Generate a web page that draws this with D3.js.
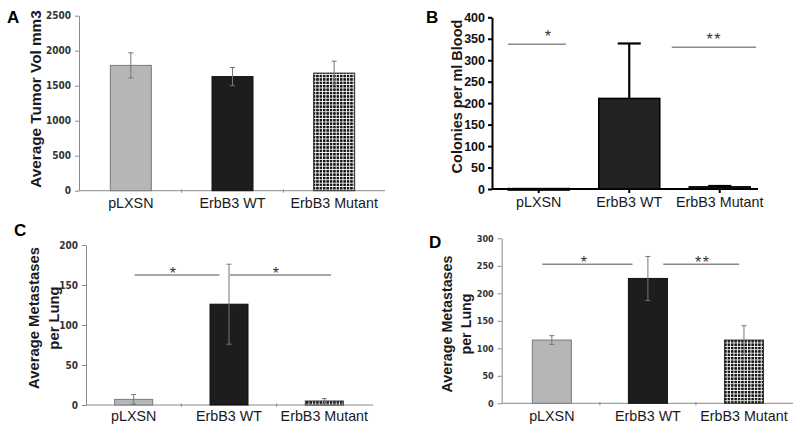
<!DOCTYPE html>
<html>
<head>
<meta charset="utf-8">
<script src="https://cdn.jsdelivr.net/npm/d3@7"></script>
<style>
  body { margin: 0; background: #fff; }
  svg { display: block; font-family: "Liberation Sans", Arial, sans-serif; }
</style>
</head>
<body>
<svg id="chart" width="800" height="430"></svg>
<script>
// data
const categories = ["pLXSN", "ErbB3 WT", "ErbB3 Mutant"];

const tumorVol = [1790, 1630, 1680];
const tumorVolErr = [180, 130, 170];
const tumorTicks = [0, 500, 1000, 1500, 2000, 2500];

const colonies = [1, 211, 5];
const coloniesErr = [0, 128, 2];
const coloniesTicks = [0, 50, 100, 150, 200, 250, 300, 350, 400];

const metsC = [7, 126, 5];
const metsCErr = [6, 50, 3];
const metsCTicks = [0, 50, 100, 150, 200];

const metsD = [115, 227, 115];
const metsDErr = [8, 40, 26];
const metsDTicks = [0, 50, 100, 150, 200, 250, 300];

// significance brackets: [from index, to index, y value, star x index, label]
const sigB = [[-0.34, 0.3, 337, 0.11, "*"], [1.47, 2.4, 330, 1.94, "**"]];
const sigC = [[0.01, 0.9, 162.5, 0.42, "*"], [1.01, 2.07, 162.5, 1.5, "*"]];
const sigD = [[-0.1, 0.84, 253, 0.34, "*"], [1.16, 1.95, 253, 1.57, "**"]];

const svg = d3.select("#chart");

const defs = svg.append("defs");
const pat = defs.append("pattern")
  .attr("id", "checker")
  .attr("patternUnits", "userSpaceOnUse")
  .attr("width", 3.4).attr("height", 3.4);
pat.append("rect").attr("width", 3.4).attr("height", 3.4).attr("fill", "#fff");
pat.append("rect").attr("width", 2.5).attr("height", 2.5).attr("fill", "#111");

const excelFills = ["#b6b6b6", "#1d1d1d", "url(#checker)"];
const excelStroke = ["#7a7a7a", "#111", "#333"];

function drawPanel(p) {
  const g = svg.append("g");
  const y = d3.scaleLinear().domain([0, p.ticks[p.ticks.length - 1]]).range([p.y0, p.yTop]);
  const x = d3.scaleBand().domain(categories).range(p.xRange);
  const step = x.step();
  const cx = i => x(categories[0]) + step / 2 + i * step;

  // y axis
  const yAxis = d3.axisLeft(y).tickValues(p.ticks).tickFormat(d3.format("d"))
    .tickSize(p.tick).tickSizeOuter(0).tickPadding(p.pad);
  const ya = g.append("g").attr("transform", `translate(${p.axisX},0)`).call(yAxis);
  ya.select(".domain").attr("stroke", p.axisColor).attr("stroke-width", p.axisW);
  ya.selectAll(".tick line").attr("stroke", p.axisColor).attr("stroke-width", p.axisW);
  ya.selectAll(".tick text")
    .attr("font-size", p.tickFont).attr("font-weight", "bold").attr("fill", p.tickColor)
    .style("font-family", p.tickFamily);

  // x axis line
  g.append("line")
    .attr("x1", p.axisX).attr("x2", p.xEnd)
    .attr("y1", p.y0).attr("y2", p.y0)
    .attr("stroke", p.axisColor).attr("stroke-width", p.axisW);

  // small category ticks
  const tickXs = p.graphpad
    ? categories.map((c, i) => cx(i))
    : [1, 2].map(i => x(categories[0]) + i * step);
  g.selectAll(".xt").data(tickXs).enter().append("line")
    .attr("x1", d => d).attr("x2", d => d)
    .attr("y1", p.graphpad ? p.y0 : p.y0 - 1.5).attr("y2", p.y0 + (p.graphpad ? 4 : 2))
    .attr("stroke", p.axisColor).attr("stroke-width", p.axisW);

  // bars
  g.selectAll(".bar").data(p.values).enter().append("rect")
    .attr("x", (d, i) => cx(i) - p.barW / 2)
    .attr("y", d => y(d))
    .attr("width", p.barW)
    .attr("height", d => Math.max(p.y0 - y(d), 1.5))
    .attr("fill", (d, i) => p.graphpad ? "#222" : excelFills[i])
    .attr("stroke", (d, i) => p.graphpad ? "#000" : excelStroke[i])
    .attr("stroke-width", p.graphpad ? 1.5 : 1);

  // error bars
  p.values.forEach((v, i) => {
    const e = p.errors[i];
    if (!e) return;
    const lo = p.graphpad ? v : v - e;
    const c = p.graphpad ? "#000" : "#777";
    const w = p.graphpad ? 2.2 : 1;
    g.append("line")
      .attr("x1", cx(i)).attr("x2", cx(i))
      .attr("y1", y(lo)).attr("y2", y(v + e))
      .attr("stroke", c).attr("stroke-width", w);
    g.append("line")
      .attr("x1", cx(i) - p.cap).attr("x2", cx(i) + p.cap)
      .attr("y1", y(v + e)).attr("y2", y(v + e))
      .attr("stroke", c).attr("stroke-width", w);
    if (!p.graphpad) {
      g.append("line")
        .attr("x1", cx(i) - p.cap).attr("x2", cx(i) + p.cap)
        .attr("y1", y(lo)).attr("y2", y(lo))
        .attr("stroke", c).attr("stroke-width", w);
    }
  });

  // significance
  (p.sig || []).forEach(s => {
    g.append("line")
      .attr("x1", cx(s[0])).attr("x2", cx(s[1]))
      .attr("y1", y(s[2])).attr("y2", y(s[2]))
      .attr("stroke", "#8a8a8a").attr("stroke-width", 1.5);
    g.append("text")
      .attr("x", cx(s[3])).attr("y", y(s[2]) + p.starDy)
      .attr("text-anchor", "middle")
      .attr("font-size", 16).attr("fill", "#333")
      .attr("letter-spacing", 1.5)
      .text(s[4]);
  });

  // category labels
  g.selectAll(".cl").data(categories).enter().append("text")
    .attr("x", (d, i) => cx(i))
    .attr("y", p.labelY)
    .attr("text-anchor", "middle")
    .attr("font-size", 14.3).attr("fill", "#1a1a1a")
    .text(d => d);

  // y title
  const tg = g.append("text")
    .attr("transform", `translate(${p.titleX},${p.titleY}) rotate(-90)`)
    .attr("text-anchor", "middle")
    .attr("font-size", p.titleFont).attr("font-weight", "bold").attr("fill", "#1a1a1a");
  p.title.forEach((t, k) => {
    tg.append("tspan").attr("x", 0).attr("dy", k === 0 ? 0 : p.titleGap).text(t);
  });

  // panel letter
  g.append("text")
    .attr("x", p.letterX).attr("y", p.letterY)
    .attr("font-size", 17).attr("font-weight", "bold").attr("fill", "#000")
    .text(p.letter);
}

const excel = {
  graphpad: false, tick: 4, pad: 4, axisColor: "#8a8a8a", axisW: 1,
  tickFont: 10, tickColor: "#333", tickFamily: "'DejaVu Sans Condensed', 'DejaVu Sans', sans-serif",
  cap: 2.5, starDy: 4
};

drawPanel(Object.assign({}, excel, {
  letter: "A", letterX: 7, letterY: 23,
  values: tumorVol, errors: tumorVolErr, ticks: tumorTicks,
  y0: 190.7, yTop: 15.7, axisX: 79, xEnd: 385, xRange: [80, 385],
  barW: 41, labelY: 208,
  title: ["Average Tumor Vol mm3"], titleX: 40.5, titleY: 99, titleFont: 15.3
}));

drawPanel({
  graphpad: true, tick: 4, pad: 3, axisColor: "#000", axisW: 2,
  tickFont: 12.5, tickColor: "#111", tickFamily: "'Liberation Sans', Arial, sans-serif",
  cap: 11.5, starDy: -2,
  letter: "B", letterX: 426, letterY: 23,
  values: colonies, errors: coloniesErr, ticks: coloniesTicks, sig: sigB,
  y0: 189, yTop: 17.3, axisX: 492, xEnd: 758, xRange: [493.5, 765],
  barW: 61, labelY: 207,
  title: ["Colonies per ml Blood"], titleX: 462, titleY: 96.5, titleFont: 14.5
});

drawPanel(Object.assign({}, excel, {
  letter: "C", letterX: 14, letterY: 236,
  values: metsC, errors: metsCErr, ticks: metsCTicks, sig: sigC,
  y0: 405, yTop: 245, axisX: 86, xEnd: 373, xRange: [86, 372],
  barW: 38, labelY: 421,
  title: ["Average Metastases", "per Lung"], titleX: 38.5, titleY: 318, titleFont: 14.8, titleGap: 20
}));

drawPanel(Object.assign({}, excel, {
  letter: "D", letterX: 429, letterY: 248,
  values: metsD, errors: metsDErr, ticks: metsDTicks, sig: sigD,
  tickFont: 9,
  y0: 403.3, yTop: 238.3, axisX: 501.7, xEnd: 793, xRange: [503.8, 792],
  barW: 39, labelY: 421,
  title: ["Average Metastases", "per Lung"], titleX: 452, titleY: 324, titleFont: 14.3, titleGap: 18.5
}));
</script>
</body>
</html>
